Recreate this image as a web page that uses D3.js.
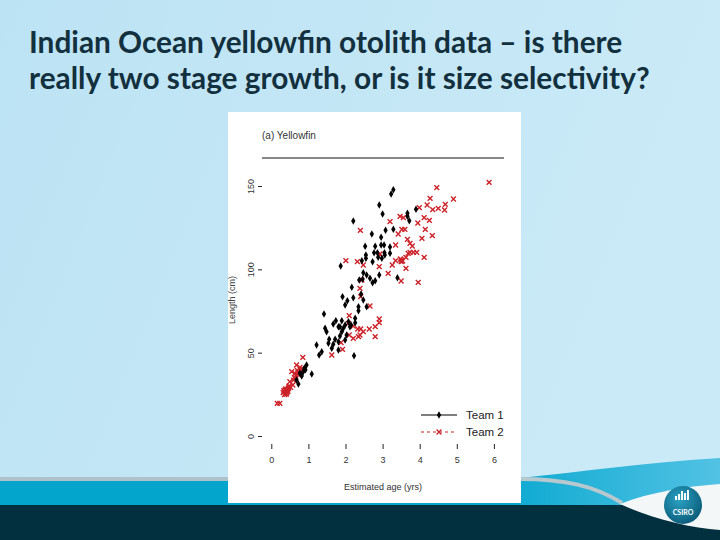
<!DOCTYPE html>
<html>
<head>
<meta charset="utf-8">
<script src="https://cdn.jsdelivr.net/npm/d3@7"></script>
<style>
  html, body { margin: 0; padding: 0; background: #fff; }
  svg { display: block; }
</style>
</head>
<body>
<svg id="slide" width="720" height="540"></svg>
<script>
// slide title, two lines
const titleLines = ["Indian Ocean yellowfin otolith data \u2013 is there",
                    "really two stage growth, or is it size selectivity?"];

const panelTitle = "(a) Yellowfin";
const xLabel = "Estimated age (yrs)";
const yLabel = "Length (cm)";
const xTicks = [0, 1, 2, 3, 4, 5, 6];
const yTicks = [0, 50, 100, 150];
const legendNames = ["Team 1", "Team 2"];

// [age (yrs), length (cm)]
const team1 = [
  [3.29,147.8],[3.23,145.2],[2.91,138.6],[3.00,133.2],[2.21,129.0],[3.67,133.6],[3.67,131.8],
  [3.90,136.0],[3.72,129.2],[2.71,121.2],[2.96,119.2],[3.08,123.4],[3.29,124.0],[2.53,113.8],
  [2.80,113.8],[2.96,114.6],[3.04,114.6],[3.20,113.4],[2.77,110.0],[2.86,110.0],[3.05,110.0],
  [3.20,109.6],[2.55,108.6],[2.55,106.6],[2.88,107.2],[2.98,106.6],[3.06,108.6],[2.44,105.2],
  [2.73,104.6],[1.87,102.0],[2.48,98.0],[2.57,96.6],[2.91,96.6],[2.37,93.6],[2.46,94.0],
  [2.66,94.6],[2.80,93.2],[2.73,92.0],[3.40,95.0],[2.17,89.2],[2.42,85.2],[1.92,83.6],[2.21,83.0],
  [2.05,81.2],[2.48,81.6],[1.99,78.6],[2.35,77.6],[2.35,75.2],[2.57,77.6],[1.42,73.2],[1.74,69.2],
  [1.90,69.2],[2.08,68.6],[2.26,70.6],[2.26,68.0],[1.67,67.2],[1.85,65.6],[2.12,65.6],[1.45,64.6],
  [1.94,64.6],[1.81,65.6],[1.99,66.6],[2.15,66.6],[1.49,62.6],[1.90,62.6],[2.03,60.6],[1.85,60.0],
  [1.56,58.0],[1.72,58.0],[1.81,56.6],[1.99,57.6],[1.22,54.6],[1.54,55.6],[1.67,55.0],[1.63,52.6],
  [1.81,51.6],[1.36,50.6],[1.29,48.6],[2.23,48.2],[0.95,42.6],[0.89,40.6],[0.86,38.6],[1.09,37.2],
  [0.77,37.6],[0.68,33.6],[0.73,31.2],[0.92,39.8],[0.82,36.0]
];

const team2 = [
  [5.87,152.2],[4.46,149.0],[4.91,142.2],[4.28,142.6],[4.69,139.0],[4.67,135.6],[4.50,136.6],
  [4.35,135.8],[4.20,138.6],[3.99,137.0],[4.12,131.0],[4.26,129.4],[3.95,127.8],[3.47,131.8],
  [3.56,131.0],[3.20,128.6],[2.40,123.4],[3.52,124.0],[3.60,124.0],[3.42,121.2],[4.15,124.0],
  [4.06,118.6],[4.34,120.2],[3.67,118.0],[3.74,115.6],[3.80,114.0],[3.35,114.6],[3.74,110.2],
  [3.83,110.2],[3.92,110.2],[3.51,105.6],[3.48,106.2],[3.54,105.0],[3.50,104.6],[3.63,107.2],
  [3.69,109.6],[4.12,107.2],[2.93,109.2],[2.01,105.2],[2.32,104.6],[2.48,102.6],[2.91,101.6],
  [3.26,102.6],[3.35,105.2],[3.63,100.6],[3.15,97.6],[3.50,93.0],[3.96,92.2],[2.44,93.6],
  [2.39,88.6],[2.41,83.6],[2.66,78.0],[2.10,72.2],[2.91,70.2],[2.91,68.0],[2.21,66.0],[2.33,64.2],
  [2.41,64.2],[2.64,64.2],[2.80,65.6],[2.08,67.6],[2.48,62.6],[2.10,60.6],[2.21,58.6],[2.35,59.6],
  [2.39,60.6],[2.80,59.6],[1.88,56.0],[1.92,52.0],[1.63,48.6],[0.85,47.2],[0.68,42.6],[0.77,41.2],
  [0.55,38.6],[0.64,37.6],[0.75,36.6],[0.82,39.2],[0.50,32.6],[0.58,30.6],[0.37,27.6],[0.46,28.6],
  [0.52,29.2],[0.42,26.0],[0.32,26.0],[0.16,19.6],[0.23,19.6],[0.40,27.0],[0.44,28.0],[0.35,26.6],
  [0.48,30.0],[0.60,33.5],[0.66,36.0],[0.72,38.0],[0.78,40.0],[0.45,26.8],[0.38,25.4],
  [0.36,24.8],[0.41,25.2],[0.43,27.4],[0.39,28.2],[0.47,29.4],[0.34,27.2],[0.62,35.0],[0.70,39.4]
];

const red = "#cc2229";

let svg = d3.select("#slide");
let defs = svg.append("defs");

// ---- background ----
let bg = defs.append("linearGradient").attr("id", "bgGrad")
             .attr("x1", 0).attr("y1", 0).attr("x2", 1).attr("y2", 0.3);
bg.append("stop").attr("offset", 0).attr("stop-color", "#bce3f4");
bg.append("stop").attr("offset", 1).attr("stop-color", "#cbeaf7");

let teal = defs.append("linearGradient").attr("id", "tealGrad")
               .attr("x1", 0).attr("y1", 0).attr("x2", 1).attr("y2", 0);
teal.append("stop").attr("offset", 0).attr("stop-color", "#12abd2");
teal.append("stop").attr("offset", 1).attr("stop-color", "#52c2e4");

let logo = defs.append("radialGradient").attr("id", "logoGrad")
               .attr("cx", 0.4).attr("cy", 0.35).attr("r", 0.7);
logo.append("stop").attr("offset", 0).attr("stop-color", "#2aa3c4");
logo.append("stop").attr("offset", 1).attr("stop-color", "#0b5a78");

svg.append("rect").attr("width", 720).attr("height", 540).attr("fill", "url(#bgGrad)");

// bottom bands
svg.append("rect").attr("x", 0).attr("y", 477).attr("width", 720).attr("height", 5).attr("fill", "#afc2cb");
svg.append("rect").attr("x", 0).attr("y", 481).attr("width", 720).attr("height", 25).attr("fill", "#04a5cc");
svg.append("path")
   .attr("d", "M520,478 C580,472 650,462 720,458 L720,506 L520,506 Z")
   .attr("fill", "url(#tealGrad)");
svg.append("path")
   .attr("d", "M520,479 C565,479 595,486 622,503")
   .attr("fill", "none").attr("stroke", "#b7c8ce").attr("stroke-width", 4);
svg.append("rect").attr("x", 0).attr("y", 505).attr("width", 720).attr("height", 35).attr("fill", "#03303f");
svg.append("path")
   .attr("d", "M620,504 C650,492 690,486 720,484 L720,530 C690,528 650,518 620,504 Z")
   .attr("fill", "#f4f7f8");

// CSIRO logo
svg.append("circle").attr("cx", 683).attr("cy", 505).attr("r", 19).attr("fill", "url(#logoGrad)");
[[-7,4],[-4,6],[-1,9],[2,7],[5,10]].forEach(function(b){
  svg.append("rect").attr("x", 683 + b[0] - 1).attr("y", 500 - b[1])
     .attr("width", 2).attr("height", b[1]).attr("fill", "#ffffff");
});
svg.append("text").attr("x", 683).attr("y", 515).attr("text-anchor", "middle")
   .attr("font-family", "Lato, sans-serif").attr("font-weight", 700).attr("font-size", 7)
   .attr("fill", "#ffffff").text("CSIRO");

// ---- slide title ----
svg.selectAll(".title").data(titleLines).enter().append("text")
   .attr("class", "title")
   .attr("x", 29)
   .attr("y", (d, i) => 53 + i * 36)
   .attr("font-family", "Lato, sans-serif")
   .attr("font-weight", 700)
   .attr("font-size", 29.8)
   .attr("fill", "#12303e")
   .text(d => d);

// ---- chart panel ----
svg.append("rect").attr("x", 228).attr("y", 112).attr("width", 293).attr("height", 391).attr("fill", "#ffffff");

let x = d3.scaleLinear().domain([0, 6]).range([271.3, 493.9]);
let y = d3.scaleLinear().domain([0, 150]).range([436, 186]);

let chart = svg.append("g")
               .attr("font-family", "'Liberation Sans Narrow', 'Liberation Sans', sans-serif")
               .attr("fill", "#333");

chart.append("text").attr("x", 262).attr("y", 139)
     .attr("font-size", 10).attr("fill", "#333").text(panelTitle);
chart.append("line").attr("x1", 262).attr("x2", 504).attr("y1", 158).attr("y2", 158)
     .attr("stroke", "#111").attr("stroke-width", 1.2);

// X axis
let gx = chart.append("g")
              .attr("transform", "translate(0,444)")
              .call(d3.axisBottom(x).tickValues(xTicks).tickSize(5).tickPadding(8).tickFormat(d3.format("d")));
gx.select(".domain").remove();
gx.selectAll("line").attr("stroke", "#222");
gx.selectAll("text").attr("font-size", 9).attr("fill", "#333")
  .attr("font-family", "'Liberation Sans Narrow', 'Liberation Sans', sans-serif");

chart.append("text").attr("x", 383).attr("y", 490).attr("text-anchor", "middle")
     .attr("font-size", 9).attr("fill", "#333").text(xLabel);

// Y axis, labels parallel to the axis
let gy = chart.append("g")
              .attr("transform", "translate(262,0)")
              .call(d3.axisLeft(y).tickValues(yTicks).tickSize(4));
gy.select(".domain").remove();
gy.selectAll("line").attr("stroke", "#222");
gy.selectAll("text")
  .attr("transform", "rotate(-90)")
  .attr("x", 0).attr("y", -8).attr("dy", 0)
  .attr("text-anchor", "middle")
  .attr("font-size", 9).attr("fill", "#333")
  .attr("font-family", "'Liberation Sans Narrow', 'Liberation Sans', sans-serif");

chart.append("text")
     .attr("transform", "translate(235,300) rotate(-90)")
     .attr("text-anchor", "middle")
     .attr("font-size", 9).attr("fill", "#444").text(yLabel);

// points
let diamond = d3.symbol().type(d3.symbolDiamond).size(16);
let cross = d3.symbol().type(d3.symbolTimes).size(17);

chart.append("g").selectAll("path").data(team2).enter().append("path")
     .attr("transform", d => "translate(" + x(d[0]) + "," + y(d[1]) + ")")
     .attr("d", cross)
     .attr("fill", "none").attr("stroke", red).attr("stroke-width", 1.4);

chart.append("g").selectAll("path").data(team1).enter().append("path")
     .attr("transform", d => "translate(" + x(d[0]) + "," + y(d[1]) + ")")
     .attr("d", diamond)
     .attr("fill", "#000");

// legend
let legend = chart.append("g");
legend.append("line").attr("x1", 421).attr("x2", 457).attr("y1", 415).attr("y2", 415)
      .attr("stroke", "#000").attr("stroke-width", 1.2);
legend.append("path").attr("transform", "translate(439,415)").attr("d", diamond).attr("fill", "#000");
legend.append("line").attr("x1", 421).attr("x2", 457).attr("y1", 432).attr("y2", 432)
      .attr("stroke", red).attr("stroke-width", 1.2).attr("stroke-dasharray", "3,3");
legend.append("path").attr("transform", "translate(439,432)").attr("d", cross)
      .attr("fill", "none").attr("stroke", red).attr("stroke-width", 1.3);
legend.selectAll(".lg").data(legendNames).enter().append("text")
      .attr("class", "lg")
      .attr("x", 466).attr("y", (d, i) => 419 + i * 17)
      .attr("font-size", 11.5).attr("fill", "#222")
      .text(d => d);
</script>
</body>
</html>
